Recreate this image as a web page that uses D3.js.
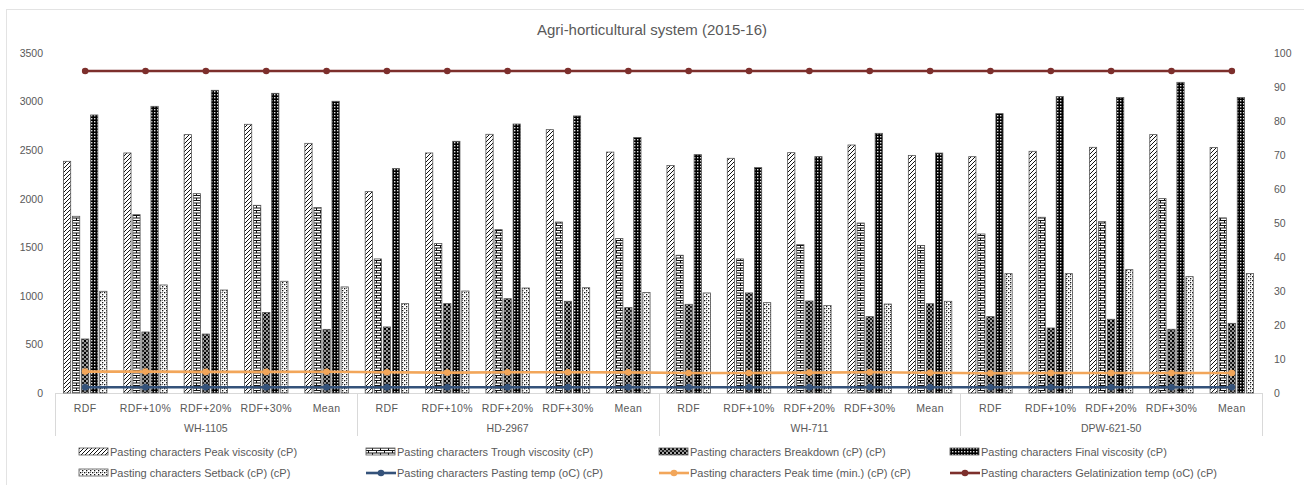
<!DOCTYPE html>
<html>
<head>
<meta charset="utf-8">
<script src="https://cdn.jsdelivr.net/npm/d3@7"></script>
<style>
  html, body { margin: 0; padding: 0; background: #fff; }
  svg { display: block; font-family: "Liberation Sans", Arial, sans-serif; }
</style>
</head>
<body>
<svg id="chart" width="1304" height="485"></svg>
<script>
// Varieties and fertilizer treatments
const groups = ["WH-1105", "HD-2967", "WH-711", "DPW-621-50"];
const treatments = ["RDF", "RDF+10%", "RDF+20%", "RDF+30%", "Mean"];

// Pasting characters, one value per variety × treatment (cP)
const peakViscosity   = [2385, 2471, 2660, 2766, 2570,  2073, 2471, 2663, 2711, 2480,  2341, 2416, 2474, 2553, 2446,  2433, 2488, 2529, 2660, 2527];
const troughViscosity = [1819, 1836, 2052, 1932, 1910,  1380, 1538, 1682, 1760, 1590,  1418, 1380, 1527, 1750, 1519,  1637, 1809, 1764, 2001, 1803];
const breakdown       = [ 556,  628,  607,  828,  655,   680,  920,  971,  944,  879,   913, 1030,  947,  786,  919,   786,  669,  759,  656,  717];
const finalViscosity  = [2862, 2951, 3116, 3085, 3003,  2310, 2591, 2769, 2852, 2630,  2454, 2320, 2433, 2673, 2470,  2876, 3051, 3041, 3198, 3041];
const setback         = [1047, 1112, 1060, 1150, 1092,   920, 1050, 1081, 1084, 1034,  1030,  930,  900,  916,  944,  1229, 1229, 1270, 1198, 1231];

// Line series
const pastingTemp  = [59, 59, 59, 59, 59,  59, 59, 59, 59, 59,  59, 59, 59, 59, 59,  59, 59, 59, 59, 59];          // primary axis
const peakTime     = [6.3, 6.3, 6.2, 6.2, 6.25,  6.1, 6.0, 6.1, 6.1, 6.08,  5.9, 5.9, 6.0, 6.1, 5.95,  5.8, 5.9, 5.9, 5.9, 5.88]; // secondary axis
const gelatinTemp  = [94.7, 94.7, 94.7, 94.7, 94.7,  94.7, 94.7, 94.7, 94.7, 94.7,  94.7, 94.7, 94.7, 94.7, 94.7,  94.7, 94.7, 94.7, 94.7, 94.7]; // secondary axis

// Axis ticks
const leftTicks  = [0, 500, 1000, 1500, 2000, 2500, 3000, 3500];
const rightTicks = [0, 10, 20, 30, 40, 50, 60, 70, 80, 90, 100];

const title = "Agri-horticultural system (2015-16)";

const barSeries = [
  { name: "Pasting characters Peak viscosity (cP)",   values: peakViscosity,   pat: "p-peak" },
  { name: "Pasting characters Trough viscosity (cP)", values: troughViscosity, pat: "p-trough" },
  { name: "Pasting characters Breakdown (cP) (cP)",   values: breakdown,       pat: "p-break" },
  { name: "Pasting characters Final viscosity (cP)",  values: finalViscosity,  pat: "p-final" },
  { name: "Pasting characters Setback (cP) (cP)",     values: setback,         pat: "p-setback" }
];
const lineSeries = [
  { name: "Pasting characters Pasting temp (oC) (cP)",        values: pastingTemp, axis: "left",  color: "#34527a" },
  { name: "Pasting characters Peak time (min.) (cP) (cP)",    values: peakTime,    axis: "right", color: "#f2a65a" },
  { name: "Pasting characters Gelatinization temp (oC) (cP)", values: gelatinTemp, axis: "right", color: "#7d2f2c" }
];

const svg = d3.select("#chart");
const textColor = "#595959";

// ---- fill patterns ----
const defs = svg.append("defs");
function pattern(id, w, h, draw) {
  const p = defs.append("pattern").attr("id", id)
    .attr("patternUnits", "userSpaceOnUse").attr("width", w).attr("height", h);
  draw(p);
}
pattern("p-peak", 4, 4, p => {
  p.append("rect").attr("width", 4).attr("height", 4).attr("fill", "#fff");
  p.append("path").attr("d", "M-1,1 l2,-2 M0,4 l4,-4 M3,5 l2,-2")
    .attr("stroke", "#111").attr("stroke-width", 1);
});
pattern("p-trough", 8, 5, p => {
  p.append("rect").attr("width", 8).attr("height", 5).attr("fill", "#fff");
  p.append("path").attr("d", "M0,0.5 H8 M0,3 H8 M0.5,0.5 V3 M4.5,3 V5")
    .attr("stroke", "#111").attr("stroke-width", 1).attr("fill", "none");
});
pattern("p-break", 4, 4, p => {
  p.append("rect").attr("width", 4).attr("height", 4).attr("fill", "#8c8c8c");
  p.append("rect").attr("width", 2).attr("height", 2).attr("fill", "#000");
  p.append("rect").attr("x", 2).attr("y", 2).attr("width", 2).attr("height", 2).attr("fill", "#222");
  p.append("rect").attr("x", 2.5).attr("y", 0.5).attr("width", 1).attr("height", 1).attr("fill", "#fff");
});
pattern("p-final", 3, 3, p => {
  p.append("rect").attr("width", 3).attr("height", 3).attr("fill", "#000");
  p.append("rect").attr("x", 1).attr("y", 1).attr("width", 1.4).attr("height", 1.4).attr("fill", "#e0e0e0");
});
pattern("p-setback", 4, 4, p => {
  p.append("rect").attr("width", 4).attr("height", 4).attr("fill", "#fff");
  p.append("rect").attr("width", 1.3).attr("height", 1.3).attr("fill", "#111");
  p.append("rect").attr("x", 2).attr("y", 2).attr("width", 1.3).attr("height", 1.3).attr("fill", "#111");
  p.append("rect").attr("x", 2).attr("y", 0).attr("width", 1).attr("height", 1).attr("fill", "#777");
});

// ---- frame ----
svg.append("rect").attr("x", 6.5).attr("y", 9.5).attr("width", 1400).attr("height", 600)
  .attr("fill", "none").attr("stroke", "#e3e3e3");

// ---- scales ----
const plot = { left: 55, right: 1262, top: 53, bottom: 393 };
const keys = [];
groups.forEach(g => treatments.forEach(t => keys.push(g + "|" + t)));

const x0 = d3.scaleBand().domain(keys).range([plot.left, plot.right]).paddingInner(0).paddingOuter(0);
const bw = x0.bandwidth();
const x1 = d3.scaleBand().domain(barSeries.map(s => s.name))
  .range([bw * 0.14, bw * 0.86]).paddingInner(0.2).paddingOuter(0);
const yL = d3.scaleLinear().domain([0, 3500]).range([plot.bottom, plot.top]);
const yR = d3.scaleLinear().domain([0, 100]).range([plot.bottom, plot.top]);

// ---- title ----
svg.append("text").attr("x", 652).attr("y", 35).attr("text-anchor", "middle")
  .attr("font-size", 15).attr("fill", textColor).text(title);

// ---- axes ----
const leftAxis = d3.axisLeft(yL).tickValues(leftTicks).tickSize(0).tickPadding(0).tickFormat(d3.format("d"));
svg.append("g").attr("transform", `translate(43,0)`).call(leftAxis)
  .call(g => g.select(".domain").remove())
  .call(g => g.selectAll("text").attr("fill", textColor).attr("font-size", 10.5)
        .attr("font-family", "Liberation Sans, Arial, sans-serif"));

const rightAxis = d3.axisRight(yR).tickValues(rightTicks).tickSize(0).tickPadding(0).tickFormat(d3.format("d"));
svg.append("g").attr("transform", `translate(1274,0)`).call(rightAxis)
  .call(g => g.select(".domain").remove())
  .call(g => g.selectAll("text").attr("fill", textColor).attr("font-size", 10.5)
        .attr("font-family", "Liberation Sans, Arial, sans-serif"));

// category axis line and group separators
svg.append("line").attr("x1", plot.left).attr("x2", plot.right)
  .attr("y1", plot.bottom + 0.5).attr("y2", plot.bottom + 0.5).attr("stroke", "#d9d9d9");
const sepX = groups.map((g, i) => x0(g + "|" + treatments[0])).concat([plot.right]);
svg.selectAll("line.sep").data(sepX).join("line").attr("class", "sep")
  .attr("x1", d => Math.round(d) + 0.5).attr("x2", d => Math.round(d) + 0.5)
  .attr("y1", plot.bottom).attr("y2", 436).attr("stroke", "#d9d9d9");

// treatment labels
svg.selectAll("text.cat").data(keys).join("text").attr("class", "cat")
  .attr("x", d => x0(d) + bw / 2).attr("y", 412).attr("text-anchor", "middle")
  .attr("font-size", 10.5).attr("fill", textColor).attr("letter-spacing", 0.4)
  .text(d => d.split("|")[1]);

// variety labels
svg.selectAll("text.grp").data(groups).join("text").attr("class", "grp")
  .attr("x", (g, i) => (sepX[i] + sepX[i + 1]) / 2).attr("y", 432).attr("text-anchor", "middle")
  .attr("font-size", 10.5).attr("fill", textColor).text(d => d);

// ---- bars ----
const barG = svg.append("g");
barSeries.forEach(s => {
  barG.selectAll(null).data(s.values).join("rect")
    .attr("x", (v, i) => x0(keys[i]) + x1(s.name))
    .attr("y", v => yL(v))
    .attr("width", x1.bandwidth())
    .attr("height", v => yL(0) - yL(v))
    .attr("fill", `url(#${s.pat})`)
    .attr("stroke", "#555").attr("stroke-width", 0.8);
});

// ---- lines ----
lineSeries.forEach(s => {
  const y = s.axis === "left" ? yL : yR;
  const line = d3.line().x((v, i) => x0(keys[i]) + bw / 2).y(v => y(v));
  svg.append("path").datum(s.values).attr("d", line)
    .attr("fill", "none").attr("stroke", s.color).attr("stroke-width", 2.6);
  svg.selectAll(null).data(s.values).join("circle")
    .attr("cx", (v, i) => x0(keys[i]) + bw / 2).attr("cy", v => y(v))
    .attr("r", 3.3).attr("fill", s.color);
});

// ---- legend ----
const legendCols = [79, 366, 659, 950];
const legendRows = [452, 473];
const legendItems = [
  ...barSeries.slice(0, 4).map((s, i) => ({ s, type: "bar", col: i, row: 0 })),
  { s: barSeries[4], type: "bar", col: 0, row: 1 },
  ...lineSeries.map((s, i) => ({ s, type: "line", col: i + 1, row: 1 }))
];
const lg = svg.append("g");
legendItems.forEach(it => {
  const lx = legendCols[it.col], ly = legendRows[it.row];
  if (it.type === "bar") {
    lg.append("rect").attr("x", lx).attr("y", ly - 4).attr("width", 29).attr("height", 7)
      .attr("fill", `url(#${it.s.pat})`).attr("stroke", "#555").attr("stroke-width", 0.8);
  } else {
    lg.append("line").attr("x1", lx).attr("x2", lx + 30).attr("y1", ly).attr("y2", ly)
      .attr("stroke", it.s.color).attr("stroke-width", 2.6);
    lg.append("circle").attr("cx", lx + 15).attr("cy", ly).attr("r", 3.3).attr("fill", it.s.color);
  }
  lg.append("text").attr("x", lx + 31).attr("y", ly + 4)
    .attr("font-size", 11).attr("fill", textColor).text(it.s.name);
});
</script>
</body>
</html>
